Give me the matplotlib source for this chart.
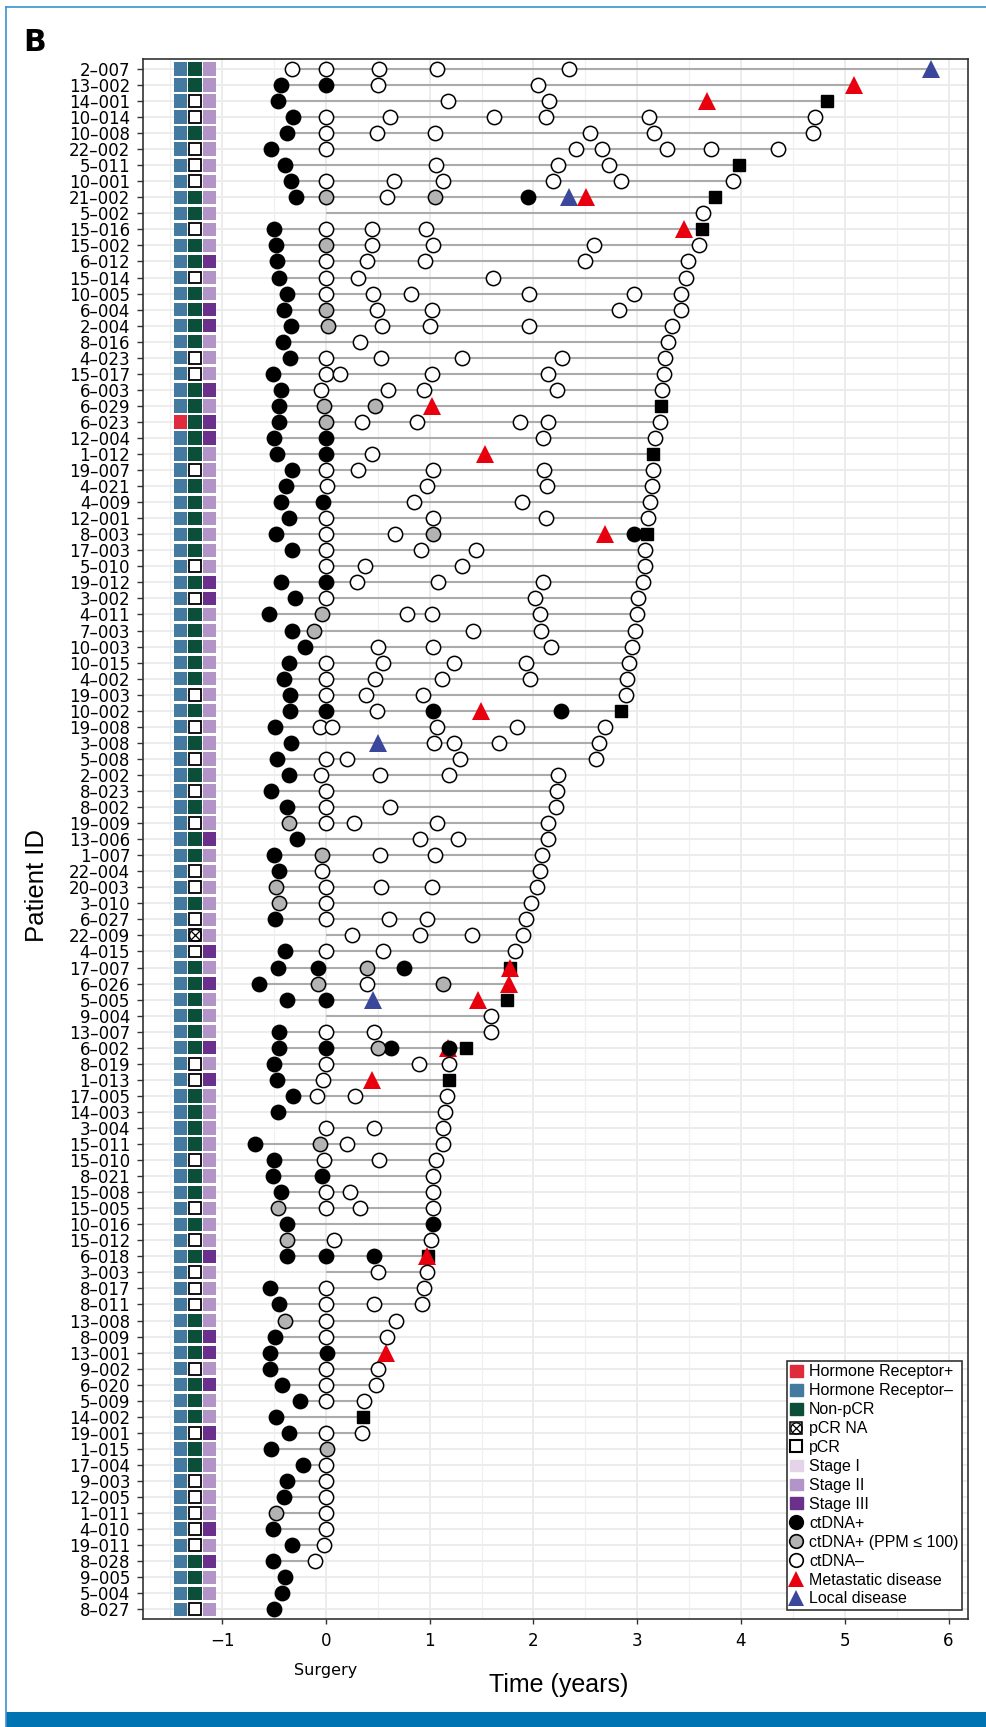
import matplotlib
matplotlib.use("Agg")
import matplotlib.pyplot as plt
from matplotlib.patches import Rectangle, Patch
from matplotlib.lines import Line2D
import numpy as np

# ---- data (times in years relative to surgery) ----
patient_ids = [
    "2-007", "13-002", "14-001", "10-014", "10-008", "22-002", "5-011", "10-001", "21-002", "5-002",
    "15-016", "15-002", "6-012", "15-014", "10-005", "6-004", "2-004", "8-016", "4-023", "15-017",
    "6-003", "6-029", "6-023", "12-004", "1-012", "19-007", "4-021", "4-009", "12-001", "8-003",
    "17-003", "5-010", "19-012", "3-002", "4-011", "7-003", "10-003", "10-015", "4-002", "19-003",
    "10-002", "19-008", "3-008", "5-008", "2-002", "8-023", "8-002", "19-009", "13-006", "1-007",
    "22-004", "20-003", "3-010", "6-027", "22-009", "4-015", "17-007", "6-026", "5-005", "9-004",
    "13-007", "6-002", "8-019", "1-013", "17-005", "14-003", "3-004", "15-011", "15-010", "8-021",
    "15-008", "15-005", "10-016", "15-012", "6-018", "3-003", "8-017", "8-011", "13-008", "8-009",
    "13-001", "9-002", "6-020", "5-009", "14-002", "19-001", "1-015", "17-004", "9-003", "12-005",
    "1-011", "4-010", "19-011", "8-028", "9-005", "5-004", "8-027",
]

# ctDNA sample times, one list per patient
sample_times = [
    [-0.33, 0, 0.515, 1.07, 2.34], [-0.43, 0, 0.5, 2.04], [-0.46, 1.18, 2.15],
    [-0.32, 0, 0.62, 1.62, 2.12, 3.11, 4.71], [-0.37, 0, 0.49, 1.05, 2.55, 3.16, 4.69],
    [-0.53, 0, 2.41, 2.66, 3.29, 3.71, 4.36], [-0.39, 1.06, 2.24, 2.73],
    [-0.34, 0, 0.66, 1.13, 2.19, 2.84, 3.92], [-0.29, 0, 0.59, 1.055, 1.95], [3.63],
    [-0.5, 0, 0.44, 0.965], [-0.48, 0, 0.44, 1.03, 2.58, 3.6], [-0.47, 0, 0.40, 0.96, 2.50, 3.49],
    [-0.45, 0, 0.31, 1.61, 3.47], [-0.37, 0, 0.45, 0.82, 1.96, 2.97, 3.42],
    [-0.40, 0, 0.49, 1.02, 2.82, 3.42], [-0.34, 0.02, 0.54, 1.0, 1.96, 3.34], [-0.41, 0.33, 3.30],
    [-0.35, 0, 0.53, 1.31, 2.28, 3.27], [-0.51, 0, 0.14, 1.02, 2.14, 3.26],
    [-0.43, -0.05, 0.60, 0.95, 2.23, 3.24], [-0.455, -0.02, 0.47],
    [-0.45, 0, 0.35, 0.88, 1.87, 2.14, 3.22], [-0.50, 0, 2.09, 3.17], [-0.47, 0, 0.445],
    [-0.33, 0, 0.31, 1.035, 2.105, 3.15], [-0.38, 0.01, 0.97, 2.13, 3.14],
    [-0.43, -0.03, 0.85, 1.89, 3.12], [-0.355, 0, 1.035, 2.12, 3.10], [-0.48, 0, 0.67, 1.03, 2.97],
    [-0.33, 0, 0.92, 1.45, 3.08], [0, 0.38, 1.31, 3.08], [-0.43, 0, 0.30, 1.08, 2.09, 3.06],
    [-0.30, 0, 2.02, 3.01], [-0.55, -0.04, 0.78, 1.02, 2.06, 3.0], [-0.33, -0.11, 1.42, 2.07, 2.98],
    [-0.20, 0.5, 1.03, 2.17, 2.95], [-0.355, 0, 0.55, 1.23, 1.93, 2.925],
    [-0.40, 0, 0.47, 1.12, 1.97, 2.90], [-0.35, 0, 0.39, 0.94, 2.89], [-0.35, 0, 0.49, 1.035, 2.27],
    [-0.49, -0.056, 0.06, 1.07, 1.84, 2.69], [-0.34, 1.045, 1.23, 1.67, 2.63],
    [-0.47, 0, 0.20, 1.29, 2.60], [-0.355, -0.05, 0.52, 1.19, 2.24], [-0.53, 0, 2.23],
    [-0.37, 0, 0.62, 2.22], [-0.355, 0, 0.27, 1.07, 2.14], [-0.275, 0.91, 1.27, 2.14],
    [-0.50, -0.04, 0.52, 1.055, 2.08], [-0.455, -0.04, 2.06], [-0.48, 0, 0.53, 1.02, 2.03],
    [-0.455, 0, 1.98], [-0.49, 0, 0.605, 0.97, 1.93], [0.255, 0.91, 1.41, 1.90],
    [-0.39, 0, 0.55, 1.82], [-0.46, -0.08, 0.40, 0.75], [-0.64, -0.08, 0.40, 1.13], [-0.37, 0],
    [1.59], [-0.45, 0, 0.46, 1.59], [-0.45, 0, 0.5, 0.625, 1.19], [-0.5, 0, 0.90, 1.19],
    [-0.47, -0.03], [-0.32, -0.09, 0.28, 1.17], [-0.46, 1.15], [0, 0.46, 1.13],
    [-0.68, -0.056, 0.20, 1.13], [-0.5, -0.02, 0.515, 1.065], [-0.51, -0.04, 1.03],
    [-0.43, 0, 0.23, 1.03], [-0.46, 0, 0.33, 1.03], [-0.37, 1.03], [-0.37, 0.075, 1.01],
    [-0.37, 0, 0.46], [0.50, 0.97], [-0.535, 0, 0.95], [-0.455, 0, 0.46, 0.93], [-0.39, 0, 0.68],
    [-0.49, 0, 0.59], [-0.54, 0.01], [-0.535, 0, 0.50], [-0.42, 0, 0.48], [-0.25, 0, 0.37],
    [-0.48], [-0.355, 0, 0.35], [-0.53, 0.015], [-0.22, 0], [-0.37, 0], [-0.40, 0], [-0.48, 0],
    [-0.51, 0], [-0.33, -0.02], [-0.51, -0.10], [-0.39], [-0.42], [-0.50],
]

# ctDNA call per sample: P = ctDNA+, L = ctDNA+ (PPM <= 100), N = ctDNA-
sample_calls = [
    "NNNNN", "PPNN", "PNN", "PNNNNNN", "PNNNNNN", "PNNNNNN", "PNNN", "PNNNNNN", "PLNLP", "N",
    "PNNN", "PLNNNN", "PNNNNN", "PNNNN", "PNNNNNN", "PLNNNN", "PLNNNN", "PNN", "PNNNNN", "PNNNNN",
    "PNNNNN", "PLL", "PLNNNNN", "PPNN", "PPN", "PNNNNN", "PNNNN", "PPNNN", "PNNNN", "PNNLP",
    "PNNNN", "NNNN", "PPNNNN", "PNNN", "PLNNNN", "PLNNN", "PNNNN", "PNNNNN", "PNNNNN", "PNNNN",
    "PPNPP", "PNNNNN", "PNNNN", "PNNNN", "PNNNN", "PNN", "PNNN", "LNNNN", "PNNN", "PLNNN",
    "PNN", "LNNNN", "LNN", "PNNNN", "NNNN", "PNNN", "PPLP", "PLNL", "PP", "N",
    "PNNN", "PPLPP", "PNNN", "PN", "PNNN", "PN", "NNN", "PLNN", "PNNN", "PPN",
    "PNNN", "LNNN", "PP", "LNN", "PPP", "NN", "PNN", "PNNN", "LNN", "PNN",
    "PP", "PNN", "PNN", "PNN", "P", "PNN", "PL", "PN", "PN", "PN",
    "LN", "PN", "PN", "PN", "P", "P", "P",
]

metastatic = {"13-002": 5.09, "14-001": 3.67, "21-002": 2.51, "15-016": 3.45, "6-029": 1.02,
              "1-012": 1.53, "8-003": 2.69, "10-002": 1.495, "17-007": 1.777, "6-026": 1.76,
              "5-005": 1.47, "6-002": 1.18, "1-013": 0.44, "6-018": 0.975, "13-001": 0.58}
local_disease = {"2-007": 5.83, "21-002": 2.34, "3-008": 0.5, "5-005": 0.457}
last_followup = {"14-001": 4.83, "5-011": 3.98, "21-002": 3.75, "15-016": 3.62, "6-029": 3.23,
                 "1-012": 3.155, "8-003": 3.09, "10-002": 2.844, "17-007": 1.774, "5-005": 1.75,
                 "6-002": 1.355, "1-013": 1.19, "6-018": 0.98, "14-002": 0.355}
line_from_surgery = ["5-002", "22-009", "9-004", "3-003"]

hr_positive = ["6-023"]
pcr_na = ["22-009"]
pcr_yes = ["14-001", "10-014", "22-002", "5-011", "10-001", "15-016", "15-014", "4-023", "15-017",
           "19-007", "5-010", "3-002", "19-003", "19-008", "5-008", "8-023", "19-009", "22-004",
           "20-003", "6-027", "4-015", "8-019", "1-013", "15-010", "15-005", "15-012", "3-003",
           "8-017", "8-011", "9-002", "19-001", "9-003", "12-005", "1-011", "4-010", "19-011", "8-027"]
stage_iii = ["6-012", "6-004", "2-004", "6-003", "6-023", "12-004", "19-012", "3-002", "13-006",
             "4-015", "6-026", "6-002", "1-013", "6-018", "8-009", "13-001", "6-020", "19-001",
             "4-010", "8-028"]

# ---- colours ----
c_hr_pos = "#E02B3C"
c_hr_neg = "#4479A0"
c_nonpcr = "#0B4E3A"
c_stage = {1: "#E3D4EA", 2: "#B394C8", 3: "#6B2F8C"}
c_met = "#E8000E"
c_local = "#3A479B"
c_low = "#B3B3B3"
c_line = "#ABABAB"

n = len(patient_ids)
rows = np.arange(n)

fig = plt.figure(figsize=(9.87, 17.27), dpi=100)
ax = fig.add_axes([0.14458, 0.06254, 0.83587, 0.90313])
ax.set_xlim(-1.765, 6.185)
ax.set_ylim(n - 1 + 0.6, -0.6)

# grid like ggplot theme_bw
ax.set_xticks(range(-1, 7))
ax.set_xticks(np.arange(-1.5, 6.0, 1.0), minor=True)
ax.set_yticks(rows)
ax.set_yticklabels([p.replace("-", "\u2013") for p in patient_ids], fontsize=12)
ax.grid(which="major", color="#EBEBEB", lw=1.3, zorder=0)
ax.grid(which="minor", axis="x", color="#F0F0F0", lw=0.9, zorder=0)
ax.set_axisbelow(True)
ax.tick_params(axis="y", length=4, width=1, color="#333333", pad=5, labelcolor="black")
ax.tick_params(axis="x", length=3.6, width=1, color="#333333", pad=6, labelsize=12)
ax.tick_params(which="minor", length=0)
for s in ax.spines.values():
    s.set_color("#333333")
    s.set_linewidth(1.2)

# annotation tiles
tile_w, tile_h = 0.13, 0.83
x_hr, x_pcr, x_stage = -1.40, -1.26, -1.12
for i, pid in enumerate(patient_ids):
    ax.add_patch(Rectangle((x_hr - tile_w / 2, i - tile_h / 2), tile_w, tile_h, lw=0,
                           color=c_hr_pos if pid in hr_positive else c_hr_neg, zorder=2))
    st = 3 if pid in stage_iii else 2
    ax.add_patch(Rectangle((x_stage - tile_w / 2, i - tile_h / 2), tile_w, tile_h, lw=0,
                           color=c_stage[st], zorder=2))
    if pid in pcr_yes or pid in pcr_na:
        ax.add_patch(Rectangle((x_pcr - 0.057, i - 0.37), 0.114, 0.74, facecolor="white",
                               edgecolor="black", lw=1.3, zorder=2))
        if pid in pcr_na:
            ax.plot([x_pcr], [i], "o", ms=8.5, mfc="none", mec="black", mew=0.9, zorder=3)
            ax.plot([x_pcr], [i], "x", ms=7, color="black", mew=0.9, zorder=3)
    else:
        ax.add_patch(Rectangle((x_pcr - tile_w / 2, i - tile_h / 2), tile_w, tile_h, lw=0,
                               color=c_nonpcr, zorder=2))

# follow-up lines
for i, pid in enumerate(patient_ids):
    pts = list(sample_times[i])
    for d in (metastatic, local_disease, last_followup):
        if pid in d:
            pts.append(d[pid])
    start = 0 if pid in line_from_surgery else min(pts)
    end = max(pts)
    if end > start:
        ax.plot([start, end], [i, i], color=c_line, lw=1.5, zorder=2, solid_capstyle="butt")

# markers
sq = [(last_followup[p], i) for i, p in enumerate(patient_ids) if p in last_followup]
ax.plot([a for a, b in sq], [b for a, b in sq], "s", ms=9.2, color="black", zorder=3)

loc = [(local_disease[p], i) for i, p in enumerate(patient_ids) if p in local_disease]
ax.plot([a for a, b in loc], [b for a, b in loc], "^", ms=12.5, color=c_local, mew=0, zorder=4)
met = [(metastatic[p], i) for i, p in enumerate(patient_ids) if p in metastatic]
ax.plot([a for a, b in met], [b for a, b in met], "^", ms=12.5, color=c_met, mew=0, zorder=4)

fills = {"P": "black", "L": c_low, "N": "white"}
for code, fc in fills.items():
    xs, ys = [], []
    for i in range(n):
        for t, c in zip(sample_times[i], sample_calls[i]):
            if c == code:
                xs.append(t)
                ys.append(i)
    ax.plot(xs, ys, "o", ms=10.3, mfc=fc, mec="black", mew=1.1, zorder=5, ls="none")

# legend
handles = [
    Patch(color=c_hr_pos), Patch(color=c_hr_neg), Patch(color=c_nonpcr),
    (Line2D([], [], marker="s", ms=9.3, mfc="white", mec="black", mew=1.1, ls="none"),
     Line2D([], [], marker="o", ms=8, mfc="none", mec="black", mew=0.9, ls="none"),
     Line2D([], [], marker="x", ms=6.5, color="black", mew=0.9, ls="none")),
    Line2D([], [], marker="s", ms=9.3, mfc="white", mec="black", mew=1.5, ls="none"),
    Patch(color=c_stage[1]), Patch(color=c_stage[2]), Patch(color=c_stage[3]),
    Line2D([], [], marker="o", ms=9.8, mfc="black", mec="black", mew=1.2, ls="none"),
    Line2D([], [], marker="o", ms=9.8, mfc=c_low, mec="black", mew=1.2, ls="none"),
    Line2D([], [], marker="o", ms=9.8, mfc="white", mec="black", mew=1.2, ls="none"),
    Line2D([], [], marker="^", ms=11.5, color=c_met, mew=0, ls="none"),
    Line2D([], [], marker="^", ms=11.5, color=c_local, mew=0, ls="none"),
]
labels = ["Hormone Receptor+", "Hormone Receptor\u2013", "Non-pCR", "pCR NA", "pCR",
          "Stage I", "Stage II", "Stage III", "ctDNA+", "ctDNA+ (PPM \u2264 100)", "ctDNA\u2013",
          "Metastatic disease", "Local disease"]
leg = ax.legend(handles, labels, loc="lower right", bbox_to_anchor=(0.993, 0.006),
                borderaxespad=0, prop={"family": ["Liberation Sans", "DejaVu Sans"], "size": 11.5},
                handlelength=0.8, handleheight=0.75, handletextpad=0.4, labelspacing=0.245,
                borderpad=0.2, fancybox=False, framealpha=1, edgecolor="#333333")
leg.get_frame().set_linewidth(1.2)
leg.set_zorder(10)

# axis titles
ax.annotate("Surgery", xy=(0, 1 - 1675.3 / 1727), xycoords=("data", "figure fraction"),
            ha="center", va="baseline", fontsize=11.5)
fig.text(559 / 987, 1 - 1691.7 / 1727, "Time (years)", ha="center", va="baseline", fontsize=18,
         family=["Liberation Sans Narrow", "Liberation Sans", "DejaVu Sans"])
fig.text(36.5 / 987, 1 - 886 / 1727, "Patient ID", ha="center", va="center", rotation=90,
         fontsize=18.5, family=["Liberation Sans", "DejaVu Sans"])
fig.text(23 / 987, 1 - 51 / 1727, "B", ha="left", va="baseline", fontsize=21.5, fontweight="bold")

# journal-style blue frame
frame_c = "#3B92CB"
fig.add_artist(Line2D([6 / 987, 6 / 987], [0, 1 - 7.3 / 1727], transform=fig.transFigure,
                      color=frame_c, lw=1.2))
fig.add_artist(Line2D([6 / 987, 1], [1 - 7.3 / 1727, 1 - 7.3 / 1727], transform=fig.transFigure,
                      color=frame_c, lw=1.2))
fig.add_artist(Rectangle((6 / 987, 0), 1, 15 / 1727, transform=fig.transFigure,
                         color="#0073B2", lw=0))

fig.savefig("out.png", dpi=100)
